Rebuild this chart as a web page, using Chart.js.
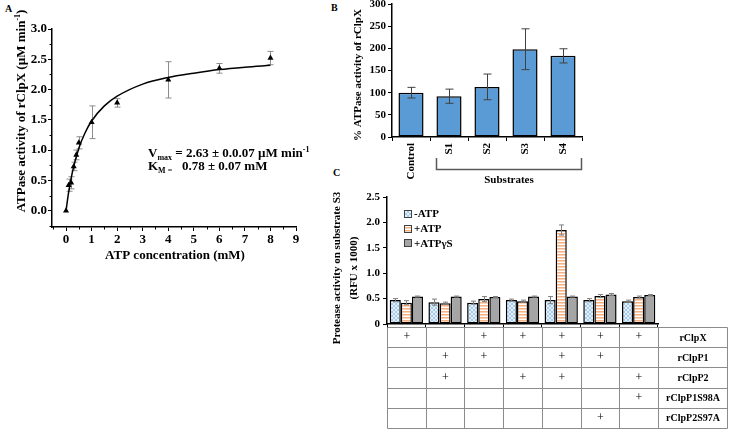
<!DOCTYPE html>
<html><head><meta charset="utf-8">
<script src="https://cdn.jsdelivr.net/npm/chart.js@4.4.1/dist/chart.umd.min.js"></script>
<style>
html,body{margin:0;padding:0;background:#fff;}
body{width:729px;height:430px;position:relative;overflow:hidden;}
canvas{position:absolute;}
.lbl{position:absolute;font:bold 10px 'Liberation Serif',serif;color:#000;line-height:10px;}
</style></head>
<body>
<div class="lbl" style="left:5px;top:4px">A</div>
<div class="lbl" style="left:331px;top:3px">B</div>
<div class="lbl" style="left:333px;top:168px">C</div>
<canvas id="cA" width="330" height="270" style="left:0;top:0"></canvas>
<canvas id="cB" width="265" height="205" style="left:335px;top:-10px"></canvas>
<canvas id="cC" width="404" height="245" style="left:325px;top:185px"></canvas>
<script>
// ---------- Panel A data ----------
const atpConc    = [0, 0.1, 0.2, 0.3, 0.4, 0.5, 1, 2, 4, 6, 8];
const atpaseRate = [0, 0.42, 0.46, 0.73, 0.92, 1.12, 1.46, 1.78, 2.16, 2.35, 2.52];
const atpaseErr  = [0, 0.10, 0.10, 0.07, 0.08, 0.10, 0.27, 0.07, 0.30, 0.08, 0.11];
const fitConc    = [0, 0.1, 0.25, 0.5, 0.75, 1, 1.5, 2, 3, 4, 5, 6, 7, 8];
const fitRate    = [0, 0.30, 0.64, 1.03, 1.29, 1.48, 1.73, 1.89, 2.09, 2.20, 2.27, 2.33, 2.37, 2.40];
const xTicksA  = [0, 1, 2, 3, 4, 5, 6, 7, 8, 9];
const yTicksA  = [0, 0.5, 1, 1.5, 2, 2.5, 3];
const xMinorA  = [-0.5, 0.5, 1.5, 2.5, 3.5, 4.5, 5.5, 6.5, 7.5, 8.5];
const yMinorA  = [-0.25, 0.25, 0.75, 1.25, 1.75, 2.25, 2.75];

// ---------- Panel B data ----------
const substrateCats  = ['Control', 'S1', 'S2', 'S3', 'S4'];
const relActivity    = [100, 92, 113, 198, 183];
const relActivityErr = [12, 16, 29, 46, 16];

// ---------- Panel C data ----------
const assayLabels  = ['1', '2', '3', '4', '5', '6', '7'];
const seriesNames  = ['-ATP', '+ATP', '+ATP\u03B3S'];
const minusATP     = [0.47, 0.43, 0.42, 0.47, 0.47, 0.47, 0.45];
const minusATPErr  = [0.03, 0.06, 0.03, 0.02, 0.07, 0.03, 0.02];
const plusATP      = [0.42, 0.41, 0.49, 0.45, 1.85, 0.55, 0.53];
const plusATPErr   = [0.04, 0.02, 0.05, 0.02, 0.10, 0.03, 0.02];
const plusATPgS    = [0.54, 0.54, 0.53, 0.54, 0.54, 0.58, 0.57];
const plusATPgSErr = [0.01, 0.01, 0.01, 0.01, 0.01, 0.02, 0.01];
const tableRows    = ['rClpX', 'rClpP1', 'rClpP2', 'rClpP1S98A', 'rClpP2S97A'];
const tableMarks   = [
  [1, 0, 1, 1, 1, 1, 1],
  [0, 1, 1, 0, 1, 1, 0],
  [0, 1, 0, 1, 1, 0, 1],
  [0, 0, 0, 0, 0, 0, 1],
  [0, 0, 0, 0, 0, 1, 0]
];

// ---------- common setup ----------
const FF = "'Liberation Serif','Times New Roman',serif";
const F = (sz, w) => (w || 'bold') + ' ' + sz + 'px ' + FF;
Chart.defaults.font.family = FF;
Chart.defaults.font.weight = 'bold';
Chart.defaults.color = '#000';
Chart.defaults.animation = false;
Chart.defaults.responsive = false;
Chart.defaults.devicePixelRatio = 1;
Chart.defaults.plugins.legend.display = false;
Chart.defaults.plugins.tooltip.enabled = false;

function richText(ctx, segs, x, y, align, rot) {
  ctx.save();
  ctx.translate(x, y);
  if (rot) ctx.rotate(rot);
  let w = 0;
  segs.forEach(s => { ctx.font = s.f; s.w = ctx.measureText(s.t).width; w += s.w; });
  let cx = align === 'center' ? -w / 2 : 0;
  ctx.textAlign = 'left';
  ctx.textBaseline = 'alphabetic';
  ctx.fillStyle = '#000';
  segs.forEach(s => { ctx.font = s.f; ctx.fillText(s.t, cx, s.dy || 0); cx += s.w; });
  ctx.restore();
}

const errorBars = {
  id: 'errorBars',
  draw(chart, under) {
    const ctx = chart.ctx;
    chart.data.datasets.forEach((ds, di) => {
      if (!ds.errors || !!ds.errorUnder !== under) return;
      const meta = chart.getDatasetMeta(di);
      const ys = chart.scales[meta.yAxisID];
      ctx.save();
      ctx.strokeStyle = ds.errorColor;
      ctx.lineWidth = ds.errorWidth || 1;
      meta.data.forEach((el, i) => {
        const raw = ds.data[i];
        const v = (typeof raw === 'object') ? raw.y : raw;
        const e = ds.errors[i];
        if (!e) return;
        const x = Math.round(el.x) + 0.5;
        const y1 = ys.getPixelForValue(v + e), y2 = ys.getPixelForValue(v - e);
        const c = ds.errorCap;
        ctx.beginPath();
        ctx.moveTo(x, y1); ctx.lineTo(x, y2);
        ctx.moveTo(x - c, y1); ctx.lineTo(x + c, y1);
        ctx.moveTo(x - c, y2); ctx.lineTo(x + c, y2);
        ctx.stroke();
      });
      ctx.restore();
    });
  },
  beforeDatasetsDraw(chart) { this.draw(chart, true); },
  afterDatasetsDraw(chart) { this.draw(chart, false); }
};

// ---------- Panel A ----------
const plugA = {
  id: 'plugA',
  afterDraw(chart) {
    const ctx = chart.ctx, xs = chart.scales.x, ys = chart.scales.y;
    ctx.save();
    ctx.strokeStyle = '#000'; ctx.lineWidth = 1;
    ctx.beginPath();
    xMinorA.forEach(v => { const x = Math.round(xs.getPixelForValue(v)) + 0.5; ctx.moveTo(x, xs.top); ctx.lineTo(x, xs.top + 2.5); });
    yMinorA.forEach(v => { const y = Math.round(ys.getPixelForValue(v)) + 0.5; ctx.moveTo(ys.right, y); ctx.lineTo(ys.right - 2.5, y); });
    ctx.stroke();
    ctx.restore();
    // axis titles
    richText(ctx, [
      {t: 'ATPase activity of rClpX (\u00B5M min', f: F(13)},
      {t: '-1', f: F(8), dy: -5},
      {t: ')', f: F(13)}
    ], 25, 111, 'center', -Math.PI / 2);
    richText(ctx, [{t: 'ATP concentration (mM)', f: F(13)}], 175, 259, 'center');
    // kinetic constants
    richText(ctx, [
      {t: 'V', f: F(13)}, {t: 'max', f: F(8), dy: 3},
      {t: ' = 2.63 \u00B1 0.0.07 \u00B5M min', f: F(13)}, {t: '-1', f: F(8), dy: -5}
    ], 148, 157, 'left');
    richText(ctx, [
      {t: 'K', f: F(13)}, {t: 'M =', f: F(8), dy: 3},
      {t: '   0.78 \u00B1 0.07 mM', f: F(13)}
    ], 148, 170, 'left');
  }
};

new Chart(document.getElementById('cA'), {
  type: 'scatter',
  data: {
    datasets: [
      {
        type: 'line',
        data: fitConc.map((x, i) => ({x: x, y: fitRate[i]})),
        borderColor: '#000', borderWidth: 1.5, pointRadius: 0,
        cubicInterpolationMode: 'monotone', fill: false
      },
      {
        type: 'scatter',
        data: atpConc.map((x, i) => ({x: x, y: atpaseRate[i]})),
        pointStyle: 'triangle', pointRadius: 3.5,
        backgroundColor: '#000', borderColor: '#000', borderWidth: 0,
        errors: atpaseErr, errorColor: '#8c8c8c', errorCap: 3, errorUnder: true
      }
    ]
  },
  options: {
    layout: {padding: {top: 29, right: 34, left: 0, bottom: 0}},
    scales: {
      x: {
        type: 'linear', min: -0.55, max: 9,
        afterBuildTicks: s => { s.ticks = xTicksA.map(v => ({value: v})); },
        afterFit: s => { s.height = 43; },
        grid: {drawOnChartArea: false, tickLength: 4, color: '#000'},
        border: {color: '#000', width: 1.5},
        ticks: {font: {size: 13}, padding: 1, maxRotation: 0, callback: v => String(v)}
      },
      y: {
        type: 'linear', min: -0.27, max: 3,
        afterBuildTicks: s => { s.ticks = yTicksA.map(v => ({value: v})); },
        afterFit: s => { s.width = 52; },
        grid: {drawOnChartArea: false, tickLength: 4, color: '#000'},
        border: {color: '#000', width: 1.5},
        ticks: {font: {size: 13}, padding: 1, callback: v => Number(v).toFixed(1)}
      }
    }
  },
  plugins: [errorBars, plugA]
});

// ---------- Panel B ----------
const plugB = {
  id: 'plugB',
  afterDraw(chart) {
    const ctx = chart.ctx, xs = chart.scales.x;
    const meta = chart.getDatasetMeta(0);
    const s1 = meta.data[1];
    const x0 = Math.round(s1.x - s1.width / 2) + 0.5;
    const x1 = Math.round(xs.right) - 0.5;
    ctx.save();
    ctx.strokeStyle = '#595959'; ctx.lineWidth = 1.5;
    ctx.beginPath();
    ctx.moveTo(x0, 168); ctx.lineTo(x0, 179.5); ctx.lineTo(x1, 179.5); ctx.lineTo(x1, 168);
    ctx.stroke();
    ctx.restore();
    richText(ctx, [{t: 'Substrates', f: F(11)}], 174, 193, 'center');
    richText(ctx, [{t: '% ATPase activity of rClpX', f: F(11)}], 25.5, 85, 'center', -Math.PI / 2);
  }
};

new Chart(document.getElementById('cB'), {
  type: 'bar',
  data: {
    labels: substrateCats,
    datasets: [{
      data: relActivity,
      backgroundColor: '#5B9BD5', borderColor: '#000', borderWidth: 1.5, borderSkipped: false,
      barPercentage: 0.66, categoryPercentage: 1,
      errors: relActivityErr, errorColor: '#404040', errorCap: 4
    }]
  },
  options: {
    layout: {padding: {top: 14, right: 18, left: 0, bottom: 0}},
    scales: {
      x: {
        afterFit: s => { s.height = 58; },
        grid: {offset: true, drawOnChartArea: false, tickLength: 4, color: '#000'},
        border: {color: '#000', width: 1.5},
        ticks: {font: {size: 11}, padding: 2, minRotation: 90, maxRotation: 90}
      },
      y: {
        min: 0, max: 300,
        afterFit: s => { s.width = 57; },
        grid: {drawOnChartArea: false, tickLength: 4, color: '#000'},
        border: {color: '#000', width: 1.5},
        ticks: {font: {size: 11}, padding: 2, stepSize: 50}
      }
    }
  },
  plugins: [errorBars, plugB]
});

// ---------- Panel C ----------
function makePattern(w, h, draw) {
  const c = document.createElement('canvas');
  c.width = w; c.height = h;
  const g = c.getContext('2d');
  draw(g);
  return g.createPattern(c, 'repeat');
}
const bluePat = makePattern(4, 4, g => {
  g.fillStyle = '#E6F0FA'; g.fillRect(0, 0, 4, 4);
  g.fillStyle = '#A9CBEA'; g.fillRect(0, 0, 2, 2); g.fillRect(2, 2, 2, 2);
});
const orangePat = makePattern(4, 3, g => {
  g.fillStyle = '#FFFFFF'; g.fillRect(0, 0, 4, 3);
  g.fillStyle = '#F4B183'; g.fillRect(0, 0, 4, 1);
  g.fillStyle = '#FAD3B8'; g.fillRect(0, 1, 4, 1);
});
const greyFill = '#A5A5A5';

const plugC = {
  id: 'plugC',
  afterDraw(chart) {
    const ctx = chart.ctx, xs = chart.scales.x;
    const n = assayLabels.length;
    const edges = [];
    for (let i = 0; i <= n; i++) edges.push(Math.round(xs.getPixelForValue(i - 0.5)) + 0.5);
    const right = chart.width - 1.5;
    const top = xs.top + 3;
    const rowH = 20.2;
    ctx.save();
    ctx.strokeStyle = '#8c8c8c'; ctx.lineWidth = 1;
    ctx.beginPath();
    for (let r = 0; r <= tableRows.length; r++) {
      const y = Math.round(top + r * rowH) + 0.5;
      ctx.moveTo(edges[0], y); ctx.lineTo(right, y);
    }
    const bottom = Math.round(top + tableRows.length * rowH) + 0.5;
    edges.concat([right]).forEach(x => { ctx.moveTo(x, Math.round(top) + 0.5); ctx.lineTo(x, bottom); });
    ctx.stroke();
    ctx.fillStyle = '#000';
    ctx.textAlign = 'center'; ctx.textBaseline = 'middle';
    tableRows.forEach((name, r) => {
      const yc = top + (r + 0.5) * rowH;
      ctx.font = F(12, 'normal');
      tableMarks[r].forEach((m, c) => {
        if (m) ctx.fillText('+', (edges[c] + edges[c + 1]) / 2, yc);
      });
      ctx.font = F(10);
      ctx.fillText(name, (edges[n] + right) / 2, yc + 1);
    });
    ctx.restore();
    // legend
    ctx.save();
    chart.data.datasets.forEach((ds, i) => {
      const yc = 29 + i * 14.7;
      ctx.fillStyle = ds.backgroundColor;
      ctx.fillRect(79, Math.round(yc - 4), 7, 7);
      ctx.strokeStyle = '#404040'; ctx.lineWidth = 1;
      ctx.strokeRect(79.5, Math.round(yc - 4) + 0.5, 7, 7);
      ctx.fillStyle = '#000'; ctx.font = F(11);
      ctx.textAlign = 'left'; ctx.textBaseline = 'middle';
      ctx.fillText(ds.label, 89, yc + 0.5);
    });
    ctx.restore();
    // y title
    richText(ctx, [{t: 'Protease activity on substrate S3', f: F(11)}], 15, 83, 'center', -Math.PI / 2);
    richText(ctx, [{t: '(RFU x 1000)', f: F(11)}], 32, 83, 'center', -Math.PI / 2);
  }
};

const barBase = {borderColor: '#000', borderWidth: 1.5, borderSkipped: false,
  barPercentage: 1, categoryPercentage: 0.86, errorColor: '#7f7f7f', errorCap: 2.5};
new Chart(document.getElementById('cC'), {
  type: 'bar',
  data: {
    labels: assayLabels,
    datasets: [
      Object.assign({label: seriesNames[0], data: minusATP, backgroundColor: bluePat, errors: minusATPErr}, barBase),
      Object.assign({label: seriesNames[1], data: plusATP, backgroundColor: orangePat, errors: plusATPErr}, barBase),
      Object.assign({label: seriesNames[2], data: plusATPgS, backgroundColor: greyFill, errors: plusATPgSErr}, barBase)
    ]
  },
  options: {
    layout: {padding: {top: 12, right: 71, left: 0, bottom: 0}},
    scales: {
      x: {
        afterFit: s => { s.height = 106; },
        grid: {offset: true, drawOnChartArea: false, tickLength: 4, color: '#000'},
        border: {color: '#000', width: 1.5},
        ticks: {callback: () => '', font: {size: 2}}
      },
      y: {
        min: 0, max: 2.5,
        afterFit: s => { s.width = 62; },
        grid: {drawOnChartArea: false, tickLength: 4, color: '#000'},
        border: {color: '#000', width: 1.5},
        ticks: {font: {size: 11}, padding: 3, stepSize: 0.5}
      }
    }
  },
  plugins: [errorBars, plugC]
});
</script>
</body></html>
